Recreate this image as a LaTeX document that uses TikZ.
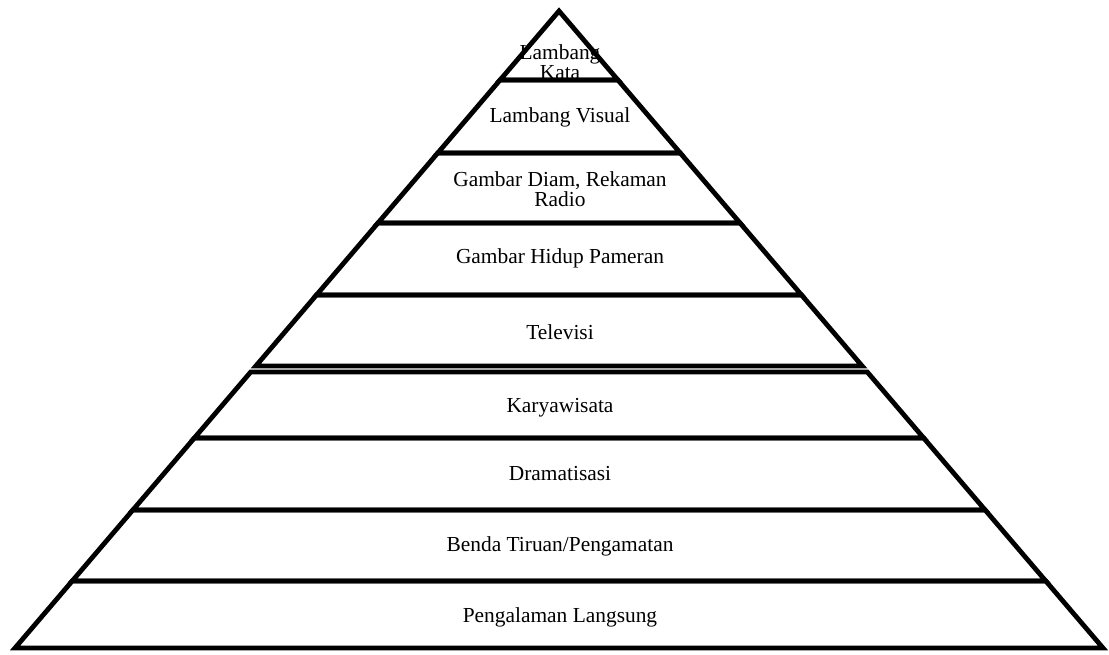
\documentclass[tikz,border=0pt]{standalone}
\usepackage{fontspec}
\setmainfont{Liberation Serif}

\begin{document}
\begin{tikzpicture}[x=0.5pt, y=-0.5pt,
  band/.style={draw, line width=2.4pt, line join=miter},
  lbl/.style={font=\fontsize{10.7}{10}\selectfont, align=center}
]
\useasboundingbox (0,0) rectangle (1109,654);

% Top triangle
\draw[band] (559,11) -- ({559+0.854*69},80) -- ({559-0.854*69},80) -- cycle;

% Bands below
\foreach \t/\b in {80/153, 153/223, 223/295, 295/366, 372/438, 438/510, 510/581, 581/648} {
  \pgfmathsetmacro\wt{0.854*(\t-11)}
  \pgfmathsetmacro\wb{0.854*(\b-11)}
  \draw[band] ({559-\wt},\t) -- ({559+\wt},\t) -- ({559+\wb},\b) -- ({559-\wb},\b) -- cycle;
}

% Labels
\node[lbl] (kata) at (560,62) {Lambang\\Kata};
\node[lbl] (visual) at (560,117) {Lambang Visual};
\node[lbl] (diam) at (560,189) {Gambar Diam, Rekaman\\Radio};
\node[lbl] (hidup) at (560,258) {Gambar Hidup Pameran};
\node[lbl] (tv) at (560,332) {Televisi};
\node[lbl] (karya) at (560,408) {Karyawisata};
\node[lbl] (drama) at (560,474) {Dramatisasi};
\node[lbl] (benda) at (560,546) {Benda Tiruan/Pengamatan};
\node[lbl] (langsung) at (560,617) {Pengalaman Langsung};

\end{tikzpicture}
\end{document}
